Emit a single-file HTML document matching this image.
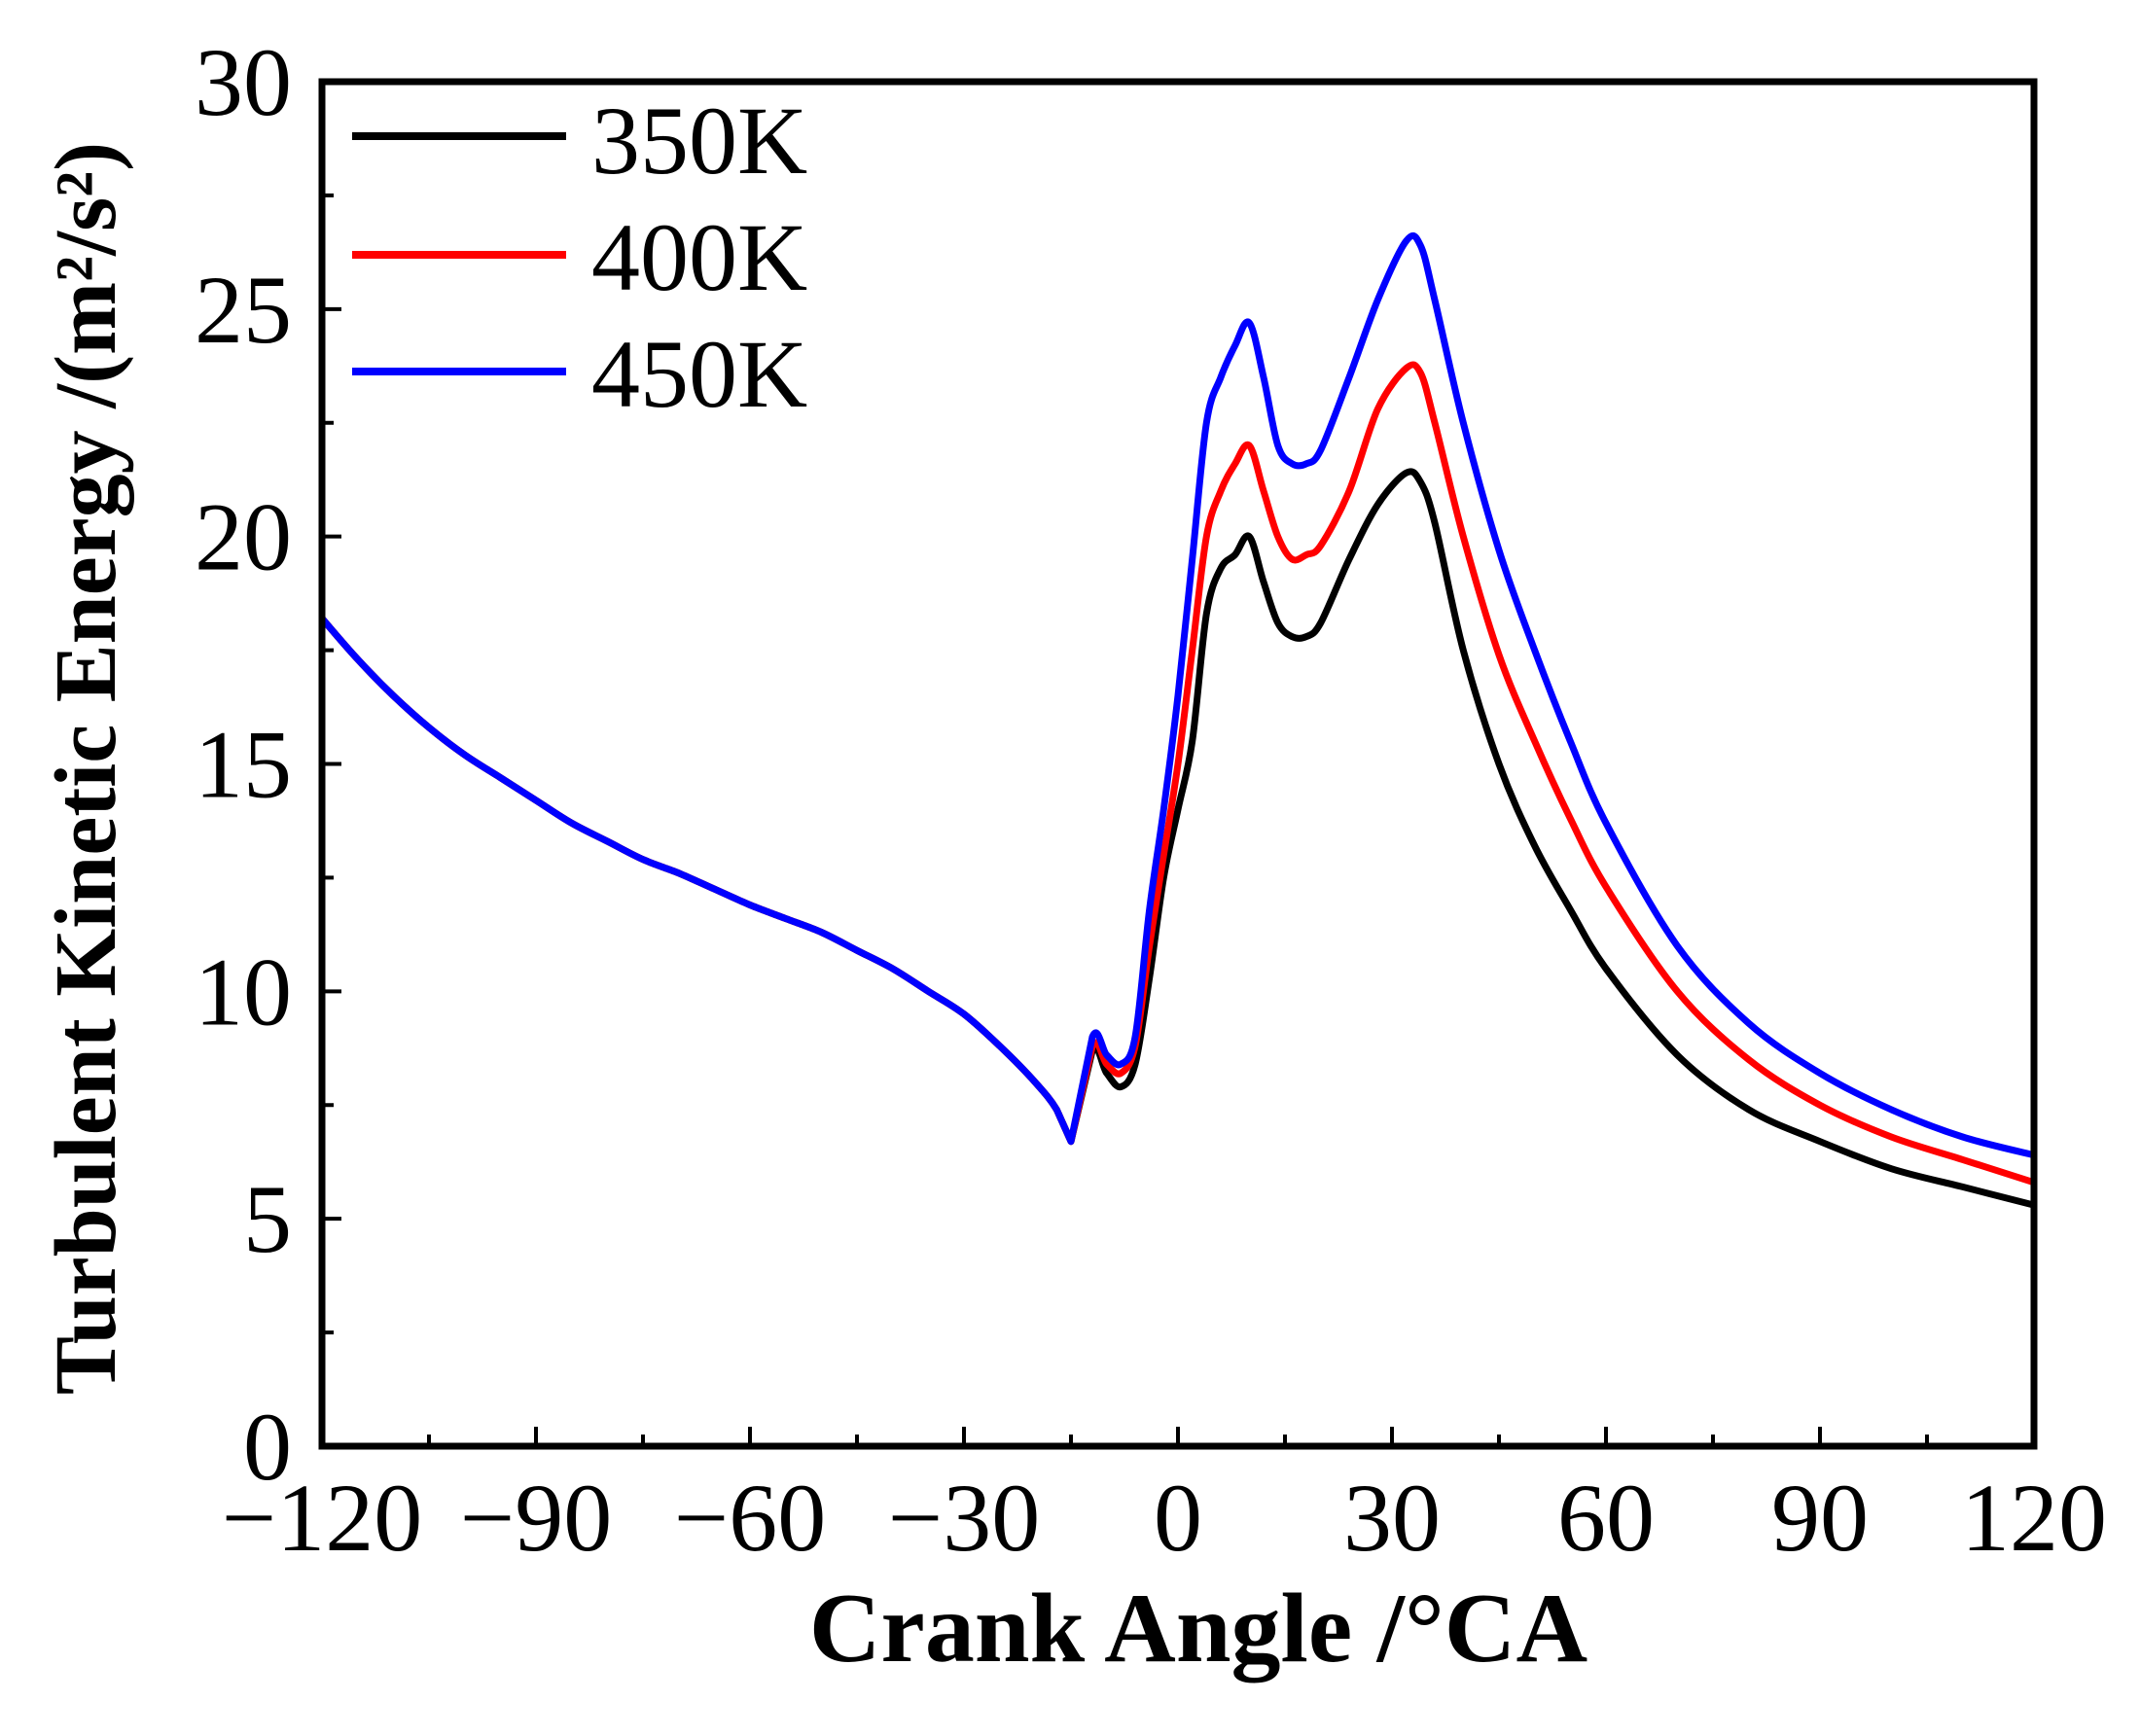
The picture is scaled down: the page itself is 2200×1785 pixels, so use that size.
<!DOCTYPE html>
<html><head><meta charset="utf-8"><style>
html,body{margin:0;padding:0;background:#fff;}
svg{display:block;font-family:"Liberation Serif",serif;}
</style></head><body>
<svg id="chart" width="2200" height="1785" viewBox="0 0 2200 1785" xmlns="http://www.w3.org/2000/svg">
<g id="ticks"></g>
<g id="series"></g>
<rect x="331" y="84" width="1760" height="1403" fill="none" stroke="#000" stroke-width="7"/>
<text x="1232" y="1708" font-size="102" font-weight="bold" text-anchor="middle">Crank Angle /°CA</text>
<text transform="translate(118,790) rotate(-90)" font-size="90" font-weight="bold" text-anchor="middle">Turbulent Kinetic Energy /(m²/s²)</text>
<g>
<line x1="362" y1="140" x2="582" y2="140" stroke="#000" stroke-width="8"/>
<text x="608" y="178" font-size="100">350K</text>
<line x1="362" y1="262" x2="582" y2="262" stroke="#f00" stroke-width="8"/>
<text x="608" y="298" font-size="100">400K</text>
<line x1="362" y1="382" x2="582" y2="382" stroke="#00f" stroke-width="8"/>
<text x="608" y="418" font-size="100">450K</text>
</g>
</svg>
<script>
const xTicks=[-120,-90,-60,-30,0,30,60,90,120];
const yTicks=[0,5,10,15,20,25,30];
const commonAngles=[-120,-115,-110,-105,-100,-95,-90,-85,-80,-75,-70,-65,-60,-55,-50,-45,-40,-35,-30,-25,-20,-17,-15];
const commonVals=[18.2,17.3,16.5,15.8,15.2,14.7,14.2,13.7,13.3,12.9,12.6,12.25,11.9,11.6,11.3,10.9,10.5,10.0,9.5,8.8,8.0,7.4,6.7];
const angles=[-12,-10,-8,-6,-4,-2,0,2,4,6,8,10,12,14,16,18,20,24,28,32,34,36,40,45,50,55,60,70,80,90,100,110,120];
const k350=[8.7,8.2,7.9,8.4,10.3,12.5,14,15.5,18.3,19.3,19.6,20,19,18.1,17.8,17.8,18.1,19.5,20.7,21.4,21.2,20.3,17.5,15,13.2,11.8,10.5,8.6,7.4,6.7,6.1,5.7,5.3];
const k400=[8.8,8.4,8.2,8.8,11,13,15,17.5,20,21,21.6,22,21,20,19.5,19.6,19.8,21,22.8,23.7,23.6,22.5,20,17.4,15.5,13.8,12.3,10,8.5,7.5,6.8,6.3,5.8];
const k450=[9.0,8.6,8.4,9,11.8,14,16.5,19.5,22.5,23.5,24.2,24.7,23.5,22,21.6,21.6,21.9,23.5,25.2,26.5,26.4,25.2,22.5,19.7,17.5,15.5,13.7,11,9.3,8.2,7.4,6.8,6.4];
const L=331,R=2091,T=84,B=1487;
const sx=v=>L+(v+120)/240*(R-L);
const sy=v=>B-v/30*(B-T);
const NS="http://www.w3.org/2000/svg";
const tg=document.getElementById('ticks');
function ln(x1,y1,x2,y2,name){const l=document.createElementNS(NS,'line');
l.setAttribute('x1',x1);l.setAttribute('y1',y1);l.setAttribute('x2',x2);l.setAttribute('y2',y2);
l.setAttribute('stroke','#000');l.setAttribute('stroke-width','4');


tg.appendChild(l);}
function tx(x,y,s,anchor,name){const t=document.createElementNS(NS,'text');
t.setAttribute('x',x);t.setAttribute('y',y);t.setAttribute('font-size','100');t.setAttribute('text-anchor',anchor);t.textContent=s;


tg.appendChild(t);}
for(let v=-120;v<=120;v+=15){const major=v%30===0;ln(sx(v),B,sx(v),B-(major?20:12),'x-tick');}
for(let v=0;v<=30;v+=2.5){const major=v%5===0;ln(L,sy(v),L+(major?20:12),sy(v),'y-tick');}
xTicks.forEach(v=>tx(sx(v),1594,v<0?'\u2212'+(-v):String(v),'middle','x-tick-label'));
yTicks.forEach(v=>tx(300,sy(v)+34,String(v),'end','y-tick-label'));
const sg=document.getElementById('series');
const sharpIdx=commonAngles.length-1;
function draw(vals,color,name){
const pts=commonAngles.map((a,i)=>[sx(a),sy(commonVals[i])]).concat(angles.map((a,i)=>[sx(a),sy(vals[i])]));
let d='M'+pts[0][0].toFixed(1)+','+pts[0][1].toFixed(1);
for(let i=0;i<pts.length-1;i++){
const p1=pts[i],p2=pts[i+1];
if(i===sharpIdx||i+1===sharpIdx){d+=' L'+p2[0].toFixed(1)+','+p2[1].toFixed(1);continue;}
const p0=pts[Math.max(0,i-1)],p3=pts[Math.min(pts.length-1,i+2)];
const c1=[p1[0]+(p2[0]-p0[0])/6,p1[1]+(p2[1]-p0[1])/6],c2=[p2[0]-(p3[0]-p1[0])/6,p2[1]-(p3[1]-p1[1])/6];
d+=' C'+c1.map(v=>v.toFixed(1)).join(',')+' '+c2.map(v=>v.toFixed(1)).join(',')+' '+p2.map(v=>v.toFixed(1)).join(',');}
const p=document.createElementNS(NS,'path');
p.setAttribute('d',d);
p.setAttribute('fill','none');p.setAttribute('stroke',color);p.setAttribute('stroke-width','7');p.setAttribute('stroke-linejoin','round');


sg.appendChild(p);}
draw(k350,'#000','line-350k');
draw(k400,'#f00','line-400k');
draw(k450,'#00f','line-450k');
</script>
</body></html>
